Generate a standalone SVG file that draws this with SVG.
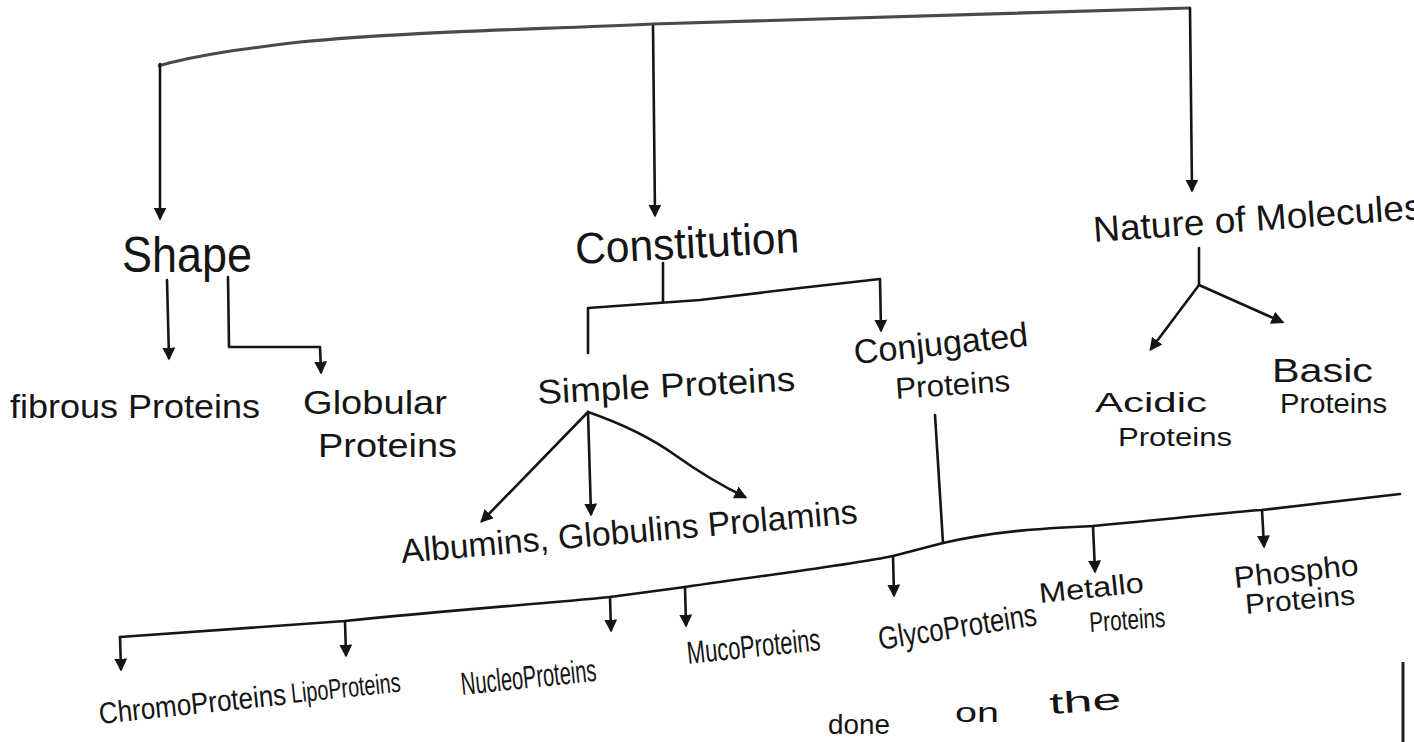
<svg xmlns="http://www.w3.org/2000/svg" width="1414" height="742" viewBox="0 0 1414 742">
<defs>
<style>
.t{font-family:"Liberation Sans",sans-serif;fill:#151515;}
.ln{fill:none;stroke:#151515;stroke-width:2.6;stroke-linecap:round;stroke-linejoin:round;}
</style>
<marker id="ah" viewBox="0 0 10 10" refX="8" refY="5" markerWidth="5" markerHeight="5" orient="auto-start-reverse" markerUnits="strokeWidth">
<path d="M0,0 L10,5 L0,10 z" fill="#151515"/>
</marker>
</defs>
<rect width="1414" height="742" fill="#ffffff"/>

<g id="connectors">
<path d="M158,66 C200,54 250,48 300,42 C400,32 520,30 653,24 C800,18 950,15 1190,8" fill="none" stroke="#4a4a4a" stroke-width="3.2"/>
<path class="ln" d="M160,64 L160,218" marker-end="url(#ah)"/>
<path class="ln" d="M653,26 L655,215" marker-end="url(#ah)"/>
<path class="ln" d="M1190,8 L1192,190" marker-end="url(#ah)"/>

<path class="ln" d="M167,280 L169,358" marker-end="url(#ah)"/>
<path class="ln" d="M228,277 L229,347 L320,347 L321,372" marker-end="url(#ah)"/>

<path class="ln" d="M663,263 L663,302"/>
<path class="ln" d="M588,353 L588,308 L700,300 L800,288 L880,279 L881,330" marker-end="url(#ah)"/>

<path class="ln" d="M588,412 L482,521" marker-end="url(#ah)"/>
<path class="ln" d="M588,412 L591,514" marker-end="url(#ah)"/>
<path class="ln" d="M588,412 Q640,430 675,455 Q710,480 745,497" marker-end="url(#ah)"/>

<path class="ln" d="M1199,248 L1199,285"/>
<path class="ln" d="M1199,285 L1151,349" marker-end="url(#ah)"/>
<path class="ln" d="M1199,285 L1282,322" marker-end="url(#ah)"/>

<path class="ln" d="M935,415 L943,543"/>
<path class="ln" d="M120,637 C250,628 300,624 345,621 C450,610 540,604 610,597 L685,587 C780,573 850,565 893,556 L943,543 C1000,530 1050,528 1093,526 C1180,518 1230,512 1262,510 L1400,494"/>
<path class="ln" d="M120,637 L121,669" marker-end="url(#ah)"/>
<path class="ln" d="M345,621 L346,655" marker-end="url(#ah)"/>
<path class="ln" d="M610,597 L611,630" marker-end="url(#ah)"/>
<path class="ln" d="M685,587 L686,625" marker-end="url(#ah)"/>
<path class="ln" d="M893,556 L894,595" marker-end="url(#ah)"/>
<path class="ln" d="M1093,526 L1095,571" marker-end="url(#ah)"/>
<path class="ln" d="M1262,510 L1264,546" marker-end="url(#ah)"/>
</g>

<g id="shape"><text class="t" x="122" y="272" font-size="50" textLength="130" lengthAdjust="spacingAndGlyphs">Shape</text></g>
<g id="fibrous"><text class="t" x="10" y="418" font-size="34" textLength="250" lengthAdjust="spacingAndGlyphs">fibrous Proteins</text></g>
<g id="globular"><text class="t" x="303" y="414" font-size="34" textLength="144" lengthAdjust="spacingAndGlyphs">Globular</text>
<text class="t" x="318" y="457" font-size="34" textLength="139" lengthAdjust="spacingAndGlyphs">Proteins</text></g>

<g id="constitution"><text class="t" x="576" y="264" font-size="44" textLength="224" lengthAdjust="spacingAndGlyphs" transform="rotate(-3 576 264)">Constitution</text></g>
<g id="simple"><text class="t" x="538" y="404" font-size="34" textLength="258" lengthAdjust="spacingAndGlyphs" transform="rotate(-3 538 404)">Simple Proteins</text></g>
<g id="conjugated"><text class="t" x="855" y="364" font-size="34" textLength="175" lengthAdjust="spacingAndGlyphs" transform="rotate(-6 855 364)">Conjugated</text>
<text class="t" x="896" y="399" font-size="30" textLength="115" lengthAdjust="spacingAndGlyphs" transform="rotate(-4 896 399)">Proteins</text></g>
<g id="simple-types"><text class="t" x="402" y="563" font-size="34" textLength="458" lengthAdjust="spacingAndGlyphs" transform="rotate(-5 402 563)">Albumins, Globulins Prolamins</text></g>

<g id="nature"><text class="t" x="1094" y="242" font-size="36" textLength="330" lengthAdjust="spacingAndGlyphs" transform="rotate(-4 1094 242)">Nature of Molecules</text></g>
<g id="acidic"><text class="t" x="1095" y="412" font-size="28" textLength="112" lengthAdjust="spacingAndGlyphs">Acidic</text>
<text class="t" x="1118" y="446" font-size="26" textLength="114" lengthAdjust="spacingAndGlyphs">Proteins</text></g>
<g id="basic"><text class="t" x="1272" y="382" font-size="34" textLength="101" lengthAdjust="spacingAndGlyphs">Basic</text>
<text class="t" x="1280" y="413" font-size="28" textLength="107" lengthAdjust="spacingAndGlyphs">Proteins</text></g>

<g id="chromo"><text class="t" x="100" y="724" font-size="30" textLength="188" lengthAdjust="spacingAndGlyphs" transform="rotate(-6 100 724)">ChromoProteins</text></g>
<g id="lipo"><text class="t" x="292" y="703" font-size="28" textLength="110" lengthAdjust="spacingAndGlyphs" transform="rotate(-6 292 703)">LipoProteins</text></g>
<g id="nucleo"><text class="t" x="462" y="695" font-size="32" textLength="136" lengthAdjust="spacingAndGlyphs" transform="rotate(-6 462 695)">NucleoProteins</text></g>
<g id="muco"><text class="t" x="688" y="664" font-size="32" textLength="134" lengthAdjust="spacingAndGlyphs" transform="rotate(-6 688 664)">MucoProteins</text></g>
<g id="glyco"><text class="t" x="880" y="650" font-size="32" textLength="160" lengthAdjust="spacingAndGlyphs" transform="rotate(-9 880 650)">GlycoProteins</text></g>
<g id="metallo"><text class="t" x="1040" y="603" font-size="28" textLength="105" lengthAdjust="spacingAndGlyphs" transform="rotate(-6 1040 603)">Metallo</text>
<text class="t" x="1090" y="632" font-size="28" textLength="76" lengthAdjust="spacingAndGlyphs" transform="rotate(-4 1090 632)">Proteins</text></g>
<g id="phospho"><text class="t" x="1235" y="588" font-size="30" textLength="125" lengthAdjust="spacingAndGlyphs" transform="rotate(-6 1235 588)">Phospho</text>
<text class="t" x="1246" y="614" font-size="28" textLength="110" lengthAdjust="spacingAndGlyphs" transform="rotate(-5 1246 614)">Proteins</text></g>

<g id="footer-text">
<text class="t" x="828" y="734" font-size="28" textLength="62" lengthAdjust="spacingAndGlyphs">done</text>
<text class="t" x="955" y="722" font-size="28" textLength="44" lengthAdjust="spacingAndGlyphs">on</text>
<text class="t" x="1050" y="714" font-size="30" textLength="72" lengthAdjust="spacingAndGlyphs" transform="rotate(-4 1050 714)">the</text>
</g>
<line x1="1403" y1="662" x2="1403" y2="742" stroke="#222" stroke-width="3"/>
</svg>
